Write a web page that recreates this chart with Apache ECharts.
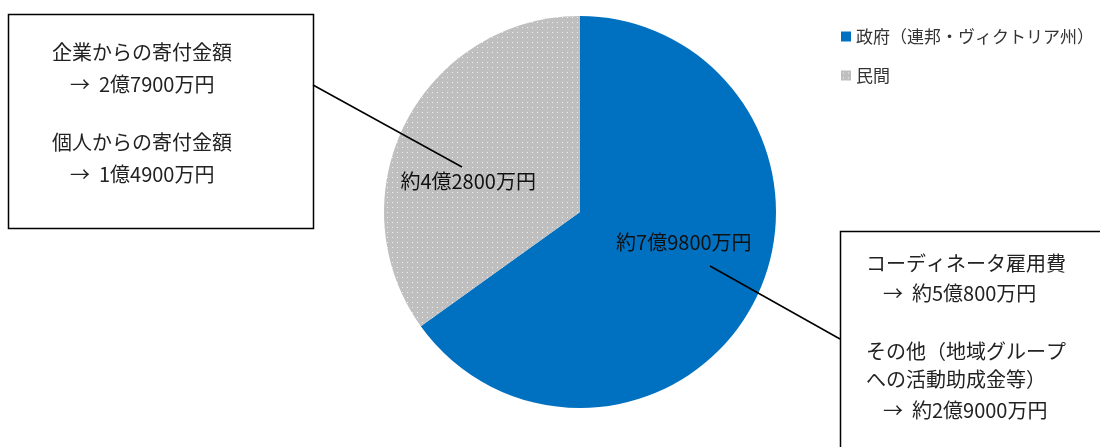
<!DOCTYPE html>
<html><head><meta charset="utf-8">
<script src="https://cdn.jsdelivr.net/npm/echarts@6/dist/echarts.min.js"></script>
<style>html,body{margin:0;padding:0;background:#fff}#c{width:1100px;height:447px}</style>
</head><body><div id="c"></div>
<script>
const categories = ['政府（連邦・ヴィクトリア州）', '民間'];
const values = [79800, 42800]; // 万円
const privateBreakdown = ['企業からの寄付金額', '→  2億7900万円', '個人からの寄付金額', '→  1億4900万円'];
const govBreakdown = ['コーディネータ雇用費', '→  約5億800万円', 'その他（地域グループ', 'への活動助成金等）', '→  約2億9000万円'];

const FONT = '"Noto Sans CJK JP", "Noto Sans", sans-serif';

function fmt(v){ return '約' + Math.floor(v/10000) + '億' + (v%10000) + '万円'; }

const pc = document.createElement('canvas');
pc.width = 5; pc.height = 5;
const pctx = pc.getContext('2d');
pctx.fillStyle = '#bfbfbf'; pctx.fillRect(0,0,5,5);
pctx.fillStyle = '#f2f2f2'; pctx.fillRect(2,2,1,1);

const colors = ['#0070c0', {image: pc, repeat: 'repeat'}];

const chart = echarts.init(document.getElementById('c'));
const txt = (x, y, s) => ({type:'text', left:x, top:y, style:{text:s, font:'20px ' + FONT, fill:'#222'}});
const graphics = [
  {type:'rect', shape:{x:8.5, y:14.5, width:305, height:214}, style:{fill:'#fff', stroke:'#000', lineWidth:1.5}},
  {type:'rect', shape:{x:840.5, y:231.5, width:300, height:260}, style:{fill:'#fff', stroke:'#000', lineWidth:1.5}},
  {type:'line', shape:{x1:313, y1:85, x2:462, y2:167}, style:{stroke:'#000', lineWidth:1.5}, z:10},
  {type:'line', shape:{x1:710, y1:266, x2:840, y2:339}, style:{stroke:'#000', lineWidth:1.5}, z:10},
];
const lx = [52, 70, 52, 70], ly = [42, 74, 132, 164];
privateBreakdown.forEach((s,i)=>graphics.push(txt(lx[i], ly[i], s)));
const rx = [866, 883, 866, 866, 883], ry = [253, 283, 341, 369, 400];
govBreakdown.forEach((s,i)=>graphics.push(txt(rx[i], ry[i], s)));

chart.setOption({
  animation:false,
  color: colors,
  legend:{
    orient:'vertical', left:836, top:23, itemWidth:10, itemHeight:10, icon:'rect', itemGap:22,
    textStyle:{fontSize:17, fontFamily:FONT, color:'#333'},
    data: categories
  },
  graphic: graphics,
  series:[{
    type:'pie', center:[580,212], radius:196, startAngle:90, clockwise:true,
    silent:true,
    label:{show:true, position:'inner', formatter:p=>fmt(p.value), fontSize:20, fontFamily:FONT, color:'#111'},
    labelLine:{show:false},
    labelLayout:function(p){ return p.dataIndex===0 ? {dx:14, dy:-16} : {dx:-22, dy:16}; },
    itemStyle:{borderWidth:0},
    data: categories.map((c,i)=>({name:c, value:values[i]}))
  }]
});
</script></body></html>
